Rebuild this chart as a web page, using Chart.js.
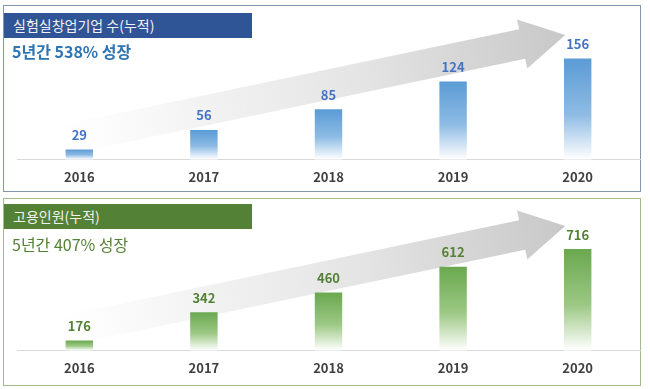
<!DOCTYPE html>
<html>
<head>
<meta charset="utf-8">
<script src="https://cdn.jsdelivr.net/npm/chart.js@4"></script>
<style>
  body { margin: 0; background: #fff; font-family: 'Noto Sans CJK KR', 'Noto Sans', sans-serif; }
  .wrap { position: relative; width: 650px; height: 389px; overflow: hidden; }
  .panel { position: absolute; left: 3px; width: 636px; background: #fff; }
  .p1 { top: 5px; height: 185px; border: 1px solid #8497b0; }
  .p2 { top: 198px; height: 186px; border: 1px solid #a3ba8a; }
  .bar { position: absolute; left: 4px; width: 248px; height: 25px; color: #f2f2f2;
         font-size: 14px; line-height: 25px; padding-left: 9px; box-sizing: border-box; z-index: 3; }
  .sub { position: absolute; left: 12px; font-size: 16px; z-index: 3; }
  canvas { position: absolute; left: 0; z-index: 2; }
</style>
</head>
<body>
<div class="wrap">
  <div class="panel p1"></div>
  <div class="panel p2"></div>
  <div class="bar" style="top:13px;background:#2f5597;">실험실창업기업 수(누적)</div>
  <div class="sub" style="top:39px;color:#2e75b6;font-weight:bold;">5년간 538% 성장</div>
  <div class="bar" style="top:204px;background:#538135;">고용인원(누적)</div>
  <div class="sub" style="top:232px;color:#548235;">5년간 407% 성장</div>
  <canvas id="chartTop" width="650" height="195" style="top:0px"></canvas>
  <canvas id="chartBottom" width="650" height="195" style="top:195px"></canvas>
</div>
<script>
  // 연도 (카테고리)
  const years = ['2016', '2017', '2018', '2019', '2020'];
  // 실험실창업기업 수(누적)
  const startups = [29, 56, 85, 124, 156];
  // 고용인원(누적)
  const employees = [176, 342, 460, 612, 716];

  Chart.defaults.font.family = "'Noto Sans CJK KR', 'Noto Sans', sans-serif";

  // 배경 화살표 (회색 그라데이션)
  const arrowPlugin = {
    id: 'arrow',
    beforeDatasetsDraw(chart) {
      const c = chart.ctx, area = chart.chartArea, x = chart.scales.x;
      const h = area.bottom - area.top;
      const tx = x.getPixelForValue(-0.16), ty = area.bottom - 0.14 * h;
      const px = x.getPixelForValue(3.9), py = area.bottom - 0.94 * h;
      const len = Math.hypot(px - tx, py - ty);
      const ux = (px - tx) / len, uy = (py - ty) / len;
      const nx = -uy, ny = ux;
      const hs = 15, hw = 25, hl = 44;
      const hx = px - ux * hl, hy = py - uy * hl;
      const g = c.createLinearGradient(tx, ty, px, py);
      g.addColorStop(0, 'rgba(245,245,245,0)');
      g.addColorStop(0.3, 'rgba(240,240,240,0.9)');
      g.addColorStop(0.6, 'rgba(228,228,228,1)');
      g.addColorStop(1, 'rgba(200,200,200,1)');
      c.save();
      c.fillStyle = g;
      c.beginPath();
      c.moveTo(tx + nx * hs, ty + ny * hs);
      c.lineTo(hx + nx * hs, hy + ny * hs);
      c.lineTo(hx + nx * hw, hy + ny * hw);
      c.lineTo(px, py);
      c.lineTo(hx - nx * hw, hy - ny * hw);
      c.lineTo(hx - nx * hs, hy - ny * hs);
      c.lineTo(tx - nx * hs, ty - ny * hs);
      c.closePath();
      c.fill();
      c.restore();
    }
  };

  // 막대 위 값 표시
  const valuePlugin = {
    id: 'values',
    afterDatasetsDraw(chart, args, opts) {
      const c = chart.ctx;
      const meta = chart.getDatasetMeta(0);
      c.save();
      c.font = 'bold 13px ' + Chart.defaults.font.family;
      c.fillStyle = opts.color;
      c.textAlign = 'center';
      c.textBaseline = 'middle';
      meta.data.forEach((bar, i) => {
        c.fillText(chart.data.datasets[0].data[i], bar.x, bar.y - 14.5);
      });
      c.restore();
    }
  };

  function barGradient(top, bottom) {
    return function (ctx) {
      const chart = ctx.chart;
      if (!chart.chartArea || ctx.raw === undefined) return top;
      const y = chart.scales.y;
      const y0 = y.getPixelForValue(ctx.raw);
      const y1 = y.getPixelForValue(y.min);
      if (!isFinite(y0) || y1 - y0 < 1) return top;
      const g = chart.ctx.createLinearGradient(0, y0, 0, y1);
      g.addColorStop(0, top);
      g.addColorStop(0.55, bottom);
      g.addColorStop(1, '#ffffff');
      return g;
    };
  }

  function makeChart(id, data, min, max, padTop, padBottom, colTop, colMid, labelColor) {
    return new Chart(document.getElementById(id).getContext('2d'), {
      type: 'bar',
      data: {
        labels: years,
        datasets: [{
          data: data,
          backgroundColor: barGradient(colTop, colMid),
          borderWidth: 0,
          barPercentage: 0.22,
          categoryPercentage: 1
        }]
      },
      options: {
        responsive: false,
        animation: false,
        devicePixelRatio: 1,
        layout: { padding: { left: 17, right: 10, top: padTop, bottom: padBottom } },
        plugins: {
          legend: { display: false },
          tooltip: { enabled: false },
          values: { color: labelColor }
        },
        scales: {
          x: {
            grid: { display: false, drawTicks: false },
            border: { display: true, color: '#d9d9d9', width: 1 },
            ticks: { color: '#404040', padding: 10, font: { size: 13, weight: 'bold' } }
          },
          y: { display: false, min: min, max: max }
        }
      },
      plugins: [arrowPlugin, valuePlugin]
    });
  }

  makeChart('chartTop', startups, 15, 200, 27, 0, '#5b9bd5', '#8dbbe4', '#4472c4');
  makeChart('chartBottom', employees, 117, 900, 23, 4, '#6aa84f', '#9cc884', '#548235');
</script>
</body>
</html>
